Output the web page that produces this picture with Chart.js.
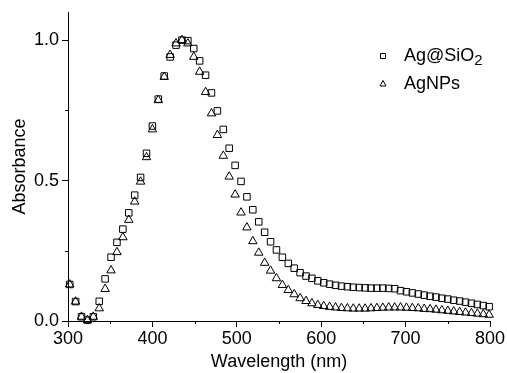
<!DOCTYPE html>
<html>
<head>
<meta charset="utf-8">
<script src="https://cdn.jsdelivr.net/npm/chart.js@4.4.1/dist/chart.umd.min.js"></script>
<style>
html, body { margin: 0; padding: 0; background: #fff; }
</style>
</head>
<body>
<canvas id="chart" width="507" height="373"></canvas>
<script>
// wavelength (nm) of each plotted sample
const wavelengths = [302, 309, 316, 323, 330, 337, 344, 351, 358, 365, 372, 379, 386, 393, 400, 407, 414, 421,
    428, 435, 442, 449, 456, 463, 470, 477, 484, 491, 498, 505, 512, 519, 526, 533, 540, 547, 554, 561, 568, 575,
    582, 589, 596, 603, 610, 617, 624, 631, 638, 645, 652, 659, 666, 673, 680, 687, 694, 701, 708, 715, 722, 729,
    736, 743, 750, 757, 764, 771, 778, 785, 792, 799];

const agSiO2 = [0.13, 0.069, 0.015, 0.003, 0.015, 0.07, 0.15, 0.227, 0.28, 0.327, 0.385, 0.448, 0.511, 0.597,
    0.694, 0.79, 0.872, 0.94, 0.982, 1.0, 0.998, 0.97, 0.926, 0.875, 0.812, 0.748, 0.682, 0.615, 0.554, 0.497,
    0.442, 0.396, 0.353, 0.316, 0.282, 0.253, 0.227, 0.205, 0.188, 0.172, 0.16, 0.152, 0.143, 0.136, 0.131,
    0.127, 0.124, 0.122, 0.12, 0.119, 0.118, 0.117, 0.117, 0.117, 0.116, 0.115, 0.108, 0.104, 0.1, 0.096, 0.092,
    0.088, 0.085, 0.081, 0.078, 0.074, 0.071, 0.067, 0.063, 0.059, 0.055, 0.051];

const agNPs = [0.13, 0.069, 0.015, 0.003, 0.015, 0.045, 0.114, 0.18, 0.245, 0.298, 0.36, 0.425, 0.496, 0.583,
    0.682, 0.786, 0.869, 0.947, 0.988, 1.0, 0.988, 0.94, 0.887, 0.815, 0.739, 0.662, 0.588, 0.514, 0.45, 0.386,
    0.333, 0.284, 0.243, 0.207, 0.179, 0.152, 0.128, 0.11, 0.095, 0.081, 0.071, 0.063, 0.057, 0.053, 0.05,
    0.048, 0.046, 0.045, 0.044, 0.044, 0.044, 0.045, 0.046, 0.047, 0.048, 0.048, 0.048, 0.047, 0.046, 0.045,
    0.043, 0.042, 0.04, 0.038, 0.036, 0.034, 0.032, 0.03, 0.028, 0.026, 0.024, 0.022];

const xTicks = [300, 400, 500, 600, 700, 800];
const xMinorTicks = [350, 450, 550, 650, 750];
const yTicks = [0, 0.5, 1.0];
const yMinorTicks = [0.25, 0.75];

const font = { family: "'Liberation Sans', Arial, sans-serif", size: 18 };

// short minor ticks, drawn through the scales
const minorTicks = {
    id: "minorTicks",
    afterDraw(chart) {
        const { ctx, scales: { x, y } } = chart;
        ctx.save();
        ctx.strokeStyle = "#000";
        ctx.lineWidth = 1;
        ctx.beginPath();
        xMinorTicks.forEach(v => {
            const px = Math.round(x.getPixelForValue(v)) + 0.5;
            ctx.moveTo(px, y.bottom);
            ctx.lineTo(px, y.bottom + 3);
        });
        yMinorTicks.forEach(v => {
            const py = Math.round(y.getPixelForValue(v)) + 0.5;
            ctx.moveTo(x.left, py);
            ctx.lineTo(x.left - 3, py);
        });
        ctx.stroke();
        ctx.restore();
    }
};

// legend inside the plot, with a subscript 2
const insideLegend = {
    id: "insideLegend",
    afterDraw(chart) {
        const ctx = chart.ctx;
        const mx = 383, tx = 404;
        const rows = [56, 84];
        ctx.save();
        ctx.strokeStyle = "#000";
        ctx.lineWidth = 1;
        ctx.fillStyle = "#000";
        ctx.textBaseline = "middle";
        chart.data.datasets.forEach((ds, i) => {
            const cy = rows[i];
            ctx.beginPath();
            if (ds.pointStyle === "rect") {
                ctx.rect(mx - 2.5, cy - 2.5, 5, 5);
            } else {
                ctx.moveTo(mx, cy - 3.5);
                ctx.lineTo(mx + 3, cy + 2);
                ctx.lineTo(mx - 3, cy + 2);
                ctx.closePath();
            }
            ctx.stroke();
            ctx.font = font.size + "px " + font.family;
            const parts = ds.label.split("_");
            ctx.fillText(parts[0], tx, cy);
            if (parts[1]) {
                const w = ctx.measureText(parts[0]).width;
                ctx.font = "15px " + font.family;
                ctx.fillText(parts[1], tx + w, cy + 5);
            }
        });
        ctx.restore();
    }
};

const markerStyle = {
    showLine: false,
    borderColor: "#000",
    backgroundColor: "rgba(0,0,0,0)",
    borderWidth: 1,
    clip: false
};

new Chart(document.getElementById("chart"), {
    type: "scatter",
    data: {
        datasets: [
            { ...markerStyle, label: "Ag@SiO_2", pointStyle: "rect", pointRadius: 4.6, pointHoverRadius: 4.6,
              data: wavelengths.map((w, i) => ({ x: w, y: agSiO2[i] })) },
            { ...markerStyle, label: "AgNPs", pointStyle: "triangle", pointRadius: 4.9, pointHoverRadius: 4.9,
              data: wavelengths.map((w, i) => ({ x: w, y: agNPs[i] })) }
        ]
    },
    options: {
        responsive: false,
        animation: false,
        devicePixelRatio: 1,
        layout: { padding: { top: 12, right: 17, left: 0, bottom: 0 } },
        plugins: { legend: { display: false }, tooltip: { enabled: false } },
        scales: {
            x: {
                type: "linear",
                min: 300,
                max: 800,
                afterBuildTicks: s => { s.ticks = xTicks.map(v => ({ value: v })); },
                afterFit: s => { s.height = 52; s.paddingLeft = 0; s.paddingRight = 0; },
                grid: { drawOnChartArea: false, tickLength: 6, color: "#000" },
                border: { color: "#000", width: 1 },
                ticks: { color: "#000", font, padding: 1, maxRotation: 0 },
                title: { display: true, text: "Wavelength (nm)", color: "#000", font, padding: { top: 0, bottom: 0 } }
            },
            y: {
                type: "linear",
                min: 0,
                max: 1.1,
                afterBuildTicks: s => { s.ticks = yTicks.map(v => ({ value: v })); },
                afterFit: s => { s.width = 68; s.paddingTop = 0; s.paddingBottom = 0; },
                grid: { drawOnChartArea: false, tickLength: 6, color: "#000" },
                border: { color: "#000", width: 1 },
                ticks: { color: "#000", font, padding: 3, callback: v => v.toFixed(1) },
                title: { display: true, text: "Absorbance", color: "#000", font, padding: { top: 9, bottom: 0 } }
            }
        }
    },
    plugins: [minorTicks, insideLegend]
});
</script>
</body>
</html>
